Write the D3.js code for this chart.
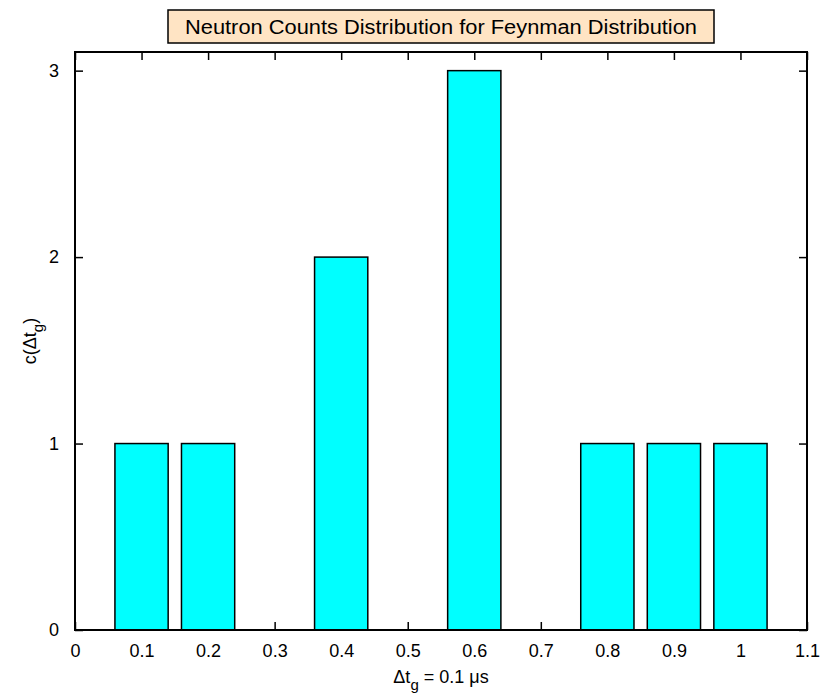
<!DOCTYPE html>
<html>
<head>
<meta charset="utf-8">
<script src="https://cdn.jsdelivr.net/npm/d3@7"></script>
<style>
    body { margin: 0; background: #ffffff; }
    text { font-family: "Liberation Sans", Arial, sans-serif; }
</style>
</head>
<body>
<svg id="chartSVG" width="822" height="700"></svg>
<script>
/**
 * Bin centres (gate width steps) and the neutron counts in each bin.
 */
const binCentres = [0.1, 0.2, 0.3, 0.4, 0.5, 0.6, 0.7, 0.8, 0.9, 1.0, 1.1];
const binCounts = [1, 1, 0, 2, 0, 3, 0, 1, 1, 1, 0];

const xTicks = [0, 0.1, 0.2, 0.3, 0.4, 0.5, 0.6, 0.7, 0.8, 0.9, 1, 1.1];
const yTicks = [0, 1, 2, 3];

const titleText = "Neutron Counts Distribution for Feynman Distribution";

const margin = {left: 75, right: 15, top: 52, bottom: 70};
const chartWidth = 822 - margin.left - margin.right;
const chartHeight = 700 - margin.top - margin.bottom;
const barWidth = 0.08;
const tickLen = 8;

var svg = d3.select("#chartSVG");
var plot = svg.append("g")
    .attr("transform", "translate(" + margin.left + "," + margin.top + ")");

// bars are clipped to the axes box
svg.append("defs").append("clipPath")
    .attr("id", "plotClip")
    .append("rect")
        .attr("x", -1)
        .attr("y", -1)
        .attr("width", chartWidth + 2)
        .attr("height", chartHeight + 2);

var xScale = d3.scaleLinear().domain([0, 1.1]).range([0, chartWidth]);
var yScale = d3.scaleLinear().domain([0, 3.1]).range([chartHeight, 0]);

// axes, ticks point inwards like matlab
var xAxisBottom = d3.axisBottom(xScale).tickValues(xTicks)
    .tickSize(-tickLen).tickPadding(tickLen + 6).tickFormat(d3.format("~g"));
var xAxisTop = d3.axisTop(xScale).tickValues(xTicks).tickSize(-tickLen).tickFormat("");
var yAxisLeft = d3.axisLeft(yScale).tickValues(yTicks)
    .tickSize(-tickLen).tickPadding(tickLen + 8).tickFormat(d3.format("d"));
var yAxisRight = d3.axisRight(yScale).tickValues(yTicks).tickSize(-tickLen).tickFormat("");

plot.append("g").attr("transform", "translate(0," + chartHeight + ")").call(xAxisBottom);
plot.append("g").call(xAxisTop);
plot.append("g").call(yAxisLeft);
plot.append("g").attr("transform", "translate(" + chartWidth + ",0)").call(yAxisRight);

plot.selectAll(".domain").remove();
plot.selectAll(".tick line").attr("stroke", "black").attr("stroke-width", 1.5);
plot.selectAll(".tick text")
    .attr("fill", "black")
    .style("font-size", "18px");

// bars go over the ticks (zero bins show up as a thick line on the axis)
plot.append("g")
    .attr("clip-path", "url(#plotClip)")
    .selectAll("rect.bar")
    .data(binCentres)
    .enter()
    .append("rect")
        .attr("class", "bar")
        .attr("x", (d) => xScale(d - barWidth / 2))
        .attr("width", xScale(barWidth) - xScale(0))
        .attr("y", (d, i) => yScale(binCounts[i]))
        .attr("height", (d, i) => yScale(0) - yScale(binCounts[i]))
        .attr("fill", "#00ffff")
        .attr("stroke", "black")
        .attr("stroke-width", 1.5);

// plot frame
plot.append("rect")
    .attr("width", chartWidth)
    .attr("height", chartHeight)
    .attr("fill", "none")
    .attr("stroke", "black")
    .attr("stroke-width", 2);

// title in a boxed label
var titleGroup = svg.append("g").attr("id", "chartTitle");
var titleX = margin.left + chartWidth / 2;
titleGroup.append("rect")
    .attr("x", titleX - 273)
    .attr("y", 10)
    .attr("width", 546)
    .attr("height", 33)
    .attr("fill", "#ffe4c4")
    .attr("stroke", "black")
    .attr("stroke-width", 1.5);
titleGroup.append("text")
    .attr("x", titleX)
    .attr("y", 34)
    .attr("text-anchor", "middle")
    .attr("textLength", 512)
    .attr("lengthAdjust", "spacingAndGlyphs")
    .style("font-size", "20px")
    .text(titleText);

// x label: delta t_g = 0.1 us
var xLabel = svg.append("text")
    .attr("x", margin.left + chartWidth / 2)
    .attr("y", 683)
    .attr("text-anchor", "middle")
    .style("font-size", "18px");
xLabel.append("tspan").text("\u0394t");
xLabel.append("tspan").attr("dy", 7).style("font-size", "15px").text("g");
xLabel.append("tspan").attr("dy", -7).text(" = 0.1 \u03bcs");

// y label: c(delta t_g)
var yLabel = svg.append("text")
    .attr("transform", "translate(36," + (margin.top + chartHeight / 2) + ") rotate(-90)")
    .attr("text-anchor", "middle")
    .style("font-size", "18px");
yLabel.append("tspan").text("c(\u0394t");
yLabel.append("tspan").attr("dy", 7).style("font-size", "15px").text("g");
yLabel.append("tspan").attr("dy", -7).text(")");
</script>
</body>
</html>
